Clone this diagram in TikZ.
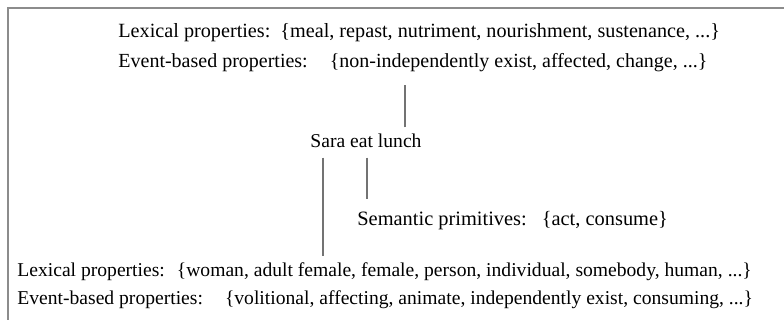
\documentclass[tikz,border=0pt]{standalone}
\usepackage{fontspec}
\setmainfont{Liberation Serif}
\usetikzlibrary{calc}
\newcommand{\propfont}{\fontsize{9.8}{12}\selectfont}

\begin{document}
\begin{tikzpicture}[
  x=0.5pt,y=-0.5pt,
  font=\propfont,
  frame/.style={draw=black!45, line width=0.8pt},
  link/.style={draw=black!55, line width=0.8pt},
  proptext/.style={anchor=base west, inner sep=0pt},
  wordtext/.style={anchor=base, inner sep=0pt}
]
\useasboundingbox (0,0) rectangle (784,320);

% Outer frame, cut by the page on the right and at the bottom
\draw[frame] (8,340) -- (8,8) -- (800,8);

% Properties of the object
\node[proptext, font=\fontsize{10.1}{12}\selectfont] (lunchlex) at (118,38)
  {Lexical properties:\hspace{5pt}\{meal, repast, nutriment, nourishment, sustenance, ...\}};
\node[proptext, font=\fontsize{10}{12}\selectfont] (lunchevt) at (118,68)
  {Event-based properties:\hspace{11pt}\{non-independently exist, affected, change, ...\}};

% The sentence
\node[wordtext] (sara) at (366,148) {Sara eat lunch};

% Primitives of the verb
\node[proptext, font=\fontsize{10.2}{12}\selectfont] (verbprim) at (357,226)
  {Semantic primitives:\hspace{7.5pt}\{act, consume\}};

% Properties of the subject
\node[proptext] (saralex) at (17,277)
  {Lexical properties:\hspace{6pt}\{woman, adult female, female, person, individual, somebody, human, ...\}};
\node[proptext] (saraevt) at (17,305)
  {Event-based properties:\hspace{11pt}\{volitional, affecting, animate, independently exist, consuming, ...\}};

% Connectors
\coordinate (sarahead) at ([xshift=19.5pt,yshift=3.25pt]sara.north);
\coordinate (sarafootl) at ([xshift=-21.5pt,yshift=-4.5pt]sara.south);
\coordinate (sarafootr) at ([xshift=0.5pt,yshift=-4.5pt]sara.south);
\draw[link] (sarahead) -- ($(sarahead |- lunchevt.south)+(0,12)$);
\draw[link] (sarafootl) -- ($(sarafootl |- saralex.north)+(0,-7)$);
\draw[link] (sarafootr) -- ($(sarafootr |- verbprim.north)+(0,-12)$);

\end{tikzpicture}
\end{document}
